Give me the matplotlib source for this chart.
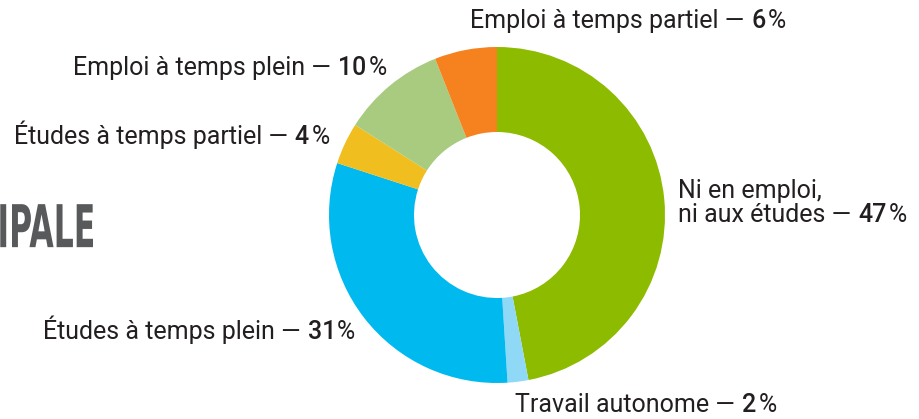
import matplotlib.pyplot as plt
from matplotlib.textpath import TextPath
from matplotlib.patches import PathPatch
from matplotlib.font_manager import FontProperties
from matplotlib.transforms import Affine2D

# données
categories = ["Ni en emploi, ni aux études", "Travail autonome", "Études à temps plein",
              "Études à temps partiel", "Emploi à temps plein", "Emploi à temps partiel"]
valeurs = [47, 2, 31, 4, 10, 6]
couleurs = ["#8dbb00", "#8fd8f6", "#00b9ef", "#f0be1e", "#a9cb80", "#f5821f"]

W, H = 920, 419
fig = plt.figure(figsize=(W / 100, H / 100), dpi=100)
ax = fig.add_axes([0, 0, 1, 1])

cx, cy = 497, H - 215
ax.pie(valeurs, colors=couleurs, startangle=90, counterclock=False,
       center=(cx, cy), radius=168, frame=True,
       wedgeprops=dict(width=85, linewidth=0))
ax.set_xlim(0, W)
ax.set_ylim(0, H)
ax.set_aspect("equal")
ax.axis("off")

police = "Roboto"
gris = "#231f20"
taille = 18
renderer = fig.canvas.get_renderer()


def etiquette(x, y, texte, nombre, ha="left", ecart=2):
    t1 = ax.text(x, y, texte + " —", ha="left", va="bottom", fontsize=taille,
                 family=police, color=gris)
    t2 = ax.annotate(nombre, xy=(1, 0), xycoords=t1, xytext=(5, 0), textcoords="offset points",
                     va="bottom", fontsize=taille, family=police, fontweight="medium", color=gris)
    t3 = ax.annotate("%", xy=(1, 0), xycoords=t2, xytext=(ecart, 0), textcoords="offset points",
                     va="bottom", fontsize=taille, family=police, color=gris)
    if ha == "right":
        b1 = t1.get_window_extent(renderer)
        b2 = t2.get_window_extent(renderer)
        b3 = t3.get_window_extent(renderer)
        larg = b1.width + b2.width + b3.width + (5 + ecart) / 72 * 100
        t1.set_x(x - larg)


etiquette(470, H - 33, categories[5], str(valeurs[5]))
etiquette(387, H - 80, categories[4], str(valeurs[4]), ha="right")
etiquette(330, H - 149, categories[3], str(valeurs[3]), ha="right")
ax.text(678, H - 203, "Ni en emploi,", ha="left", va="bottom", fontsize=taille,
        family=police, color=gris)
etiquette(678, H - 227, "ni aux études", str(valeurs[0]))
etiquette(355, H - 344, categories[2], str(valeurs[2]), ha="right", ecart=0.5)
etiquette(515, H - 417, categories[1], str(valeurs[1]))

# titre coupé à gauche, en caractères étroits
fp = FontProperties(family="DejaVu Sans", weight="bold")
tp = TextPath((0, 0), "PRINCIPALE", size=100, prop=fp)
pale = TextPath((0, 0), "PALE", size=100, prop=fp).get_extents()
ext = tp.get_extents()
sx = 81 / pale.width
sy = 43 / pale.height
tr = Affine2D().translate(-ext.x1, -ext.y0).scale(sx, sy).translate(93, H - 248)
ax.add_patch(PathPatch(tr.transform_path(tp), facecolor="#58595b", edgecolor="none"))

fig.savefig("out.png", dpi=100)
